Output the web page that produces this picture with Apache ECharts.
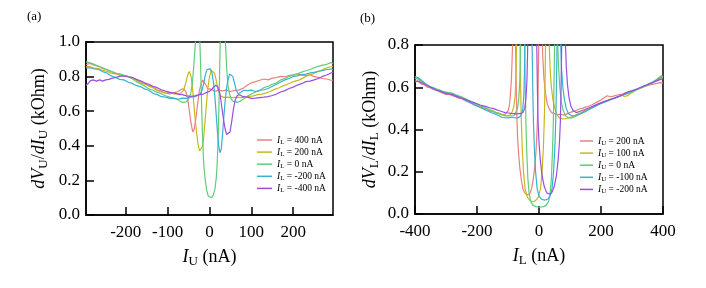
<!DOCTYPE html>
<html><head><meta charset="utf-8">
<script src="https://cdn.jsdelivr.net/npm/echarts@6/dist/echarts.min.js"></script>
<style>html,body{margin:0;padding:0;background:#fff}#c{width:706px;height:288px}</style>
</head><body><div id="c"></div><script>
// ---------- Panel (a): dV_U/dI_U vs I_U ----------
const xTicksA = [-200, -100, 0, 100, 200];
const yTicksA = [0, 0.2, 0.4, 0.6, 0.8, 1.0];
const namesA = ['IL = 400 nA', 'IL = 200 nA', 'IL = 0 nA', 'IL = -200 nA', 'IL = -400 nA'];
const a_IL400 = [[-295,.87],[-285,.876],[-275,.864],[-265,.861],[-255,.846],[-245,.841],[-235,.829],[-225,.822],[-215,.809],[-205,.806],[-195,.8],[-185,.791],[-175,.784],[-165,.771],[-155,.761],[-145,.749],[-135,.741],[-125,.724],[-115,.716],[-105,.704],[-95,.7],[-85,.706],[-75,.714],[-68,.726],[-62,.73],[-56,.71],[-52,.67],[-48,.6],[-44,.53],[-40,.48],[-36,.5],[-32,.57],[-28,.65],[-24,.72],[-20,.76],[-16,.78],[-12,.775],[-8,.75],[-4,.73],[0,.72],[5,.726],[10,.718],[15,.716],[20,.722],[30,.718],[40,.722],[50,.714],[60,.72],[70,.722],[80,.732],[90,.75],[100,.764],[110,.771],[120,.779],[130,.786],[140,.781],[150,.791],[160,.794],[170,.801],[180,.799],[190,.806],[200,.81],[210,.816],[220,.809],[230,.806],[240,.811],[250,.8],[260,.796],[270,.789],[280,.786],[290,.779],[295,.78]];
const a_IL200 = [[-295,.86],[-285,.856],[-275,.849],[-265,.846],[-255,.834],[-245,.831],[-235,.82],[-225,.816],[-215,.809],[-205,.806],[-195,.8],[-185,.794],[-175,.781],[-165,.764],[-155,.756],[-145,.744],[-135,.736],[-125,.719],[-115,.711],[-105,.704],[-95,.71],[-85,.699],[-75,.701],[-68,.705],[-62,.72],[-57,.76],[-52,.81],[-48,.83],[-44,.8],[-40,.72],[-36,.6],[-32,.5],[-28,.42],[-24,.37],[-20,.36],[-16,.4],[-12,.5],[-8,.62],[-4,.73],[0,.8],[4,.835],[8,.84],[12,.82],[16,.78],[20,.73],[24,.7],[28,.686],[35,.68],[45,.681],[55,.678],[65,.681],[75,.679],[85,.681],[95,.686],[105,.689],[115,.696],[125,.699],[135,.706],[145,.714],[155,.726],[165,.734],[175,.746],[185,.754],[195,.766],[205,.774],[215,.781],[225,.794],[235,.806],[245,.814],[255,.826],[265,.834],[275,.846],[285,.854],[295,.86]];
const a_IL0 = [[-295,.885],[-285,.879],[-275,.871],[-265,.859],[-255,.851],[-245,.839],[-235,.831],[-225,.819],[-215,.816],[-205,.809],[-195,.801],[-185,.789],[-175,.771],[-165,.759],[-155,.746],[-145,.729],[-135,.721],[-125,.709],[-115,.701],[-105,.689],[-95,.681],[-85,.674],[-75,.666],[-68,.654],[-62,.651],[-56,.654],[-50,.67],[-45,.7],[-41,.76],[-38,.85],[-35,.95],[-33,1.02],[-30,1.4],[-27,1.6],[-25,1.3],[-23,1.0],[-21,.85],[-19,.65],[-17,.48],[-15,.35],[-13,.27],[-10,.2],[-7,.145],[-3,.11],[1,.1],[5,.1],[9,.115],[13,.15],[16,.21],[18,.28],[20,.4],[22,.58],[24,.8],[25.5,1.0],[28,1.3],[32,1.6],[35,1.3],[38,1.0],[41,.85],[44,.75],[48,.7],[52,.67],[56,.658],[60,.65],[66,.651],[72,.656],[80,.669],[90,.686],[100,.699],[110,.711],[120,.719],[130,.736],[140,.744],[150,.756],[160,.764],[170,.781],[180,.789],[190,.801],[200,.809],[210,.816],[220,.826],[230,.834],[240,.841],[250,.851],[260,.859],[270,.866],[280,.871],[290,.881],[295,.875]];
const a_ILm200 = [[-295,.85],[-285,.851],[-275,.844],[-265,.841],[-255,.829],[-245,.821],[-235,.804],[-225,.796],[-215,.784],[-205,.781],[-195,.769],[-185,.761],[-175,.749],[-165,.741],[-155,.729],[-145,.721],[-135,.704],[-125,.696],[-115,.684],[-105,.681],[-95,.674],[-85,.676],[-75,.669],[-65,.676],[-55,.674],[-45,.681],[-35,.684],[-28,.691],[-22,.7],[-18,.72],[-14,.76],[-10,.81],[-6,.84],[-2,.85],[2,.845],[6,.82],[10,.76],[13,.68],[16,.58],[19,.48],[22,.4],[25,.36],[28,.38],[31,.46],[34,.56],[37,.65],[40,.72],[44,.78],[48,.815],[52,.82],[56,.8],[60,.76],[64,.72],[69,.7],[75,.709],[82,.721],[90,.719],[100,.722],[110,.714],[120,.721],[130,.724],[140,.731],[150,.744],[160,.756],[170,.769],[180,.781],[190,.789],[200,.801],[210,.804],[220,.811],[230,.814],[240,.821],[250,.824],[260,.831],[270,.834],[280,.841],[290,.844],[295,.84]];
const a_ILm400 = [[-295,.75],[-290,.76],[-285,.775],[-278,.781],[-270,.774],[-262,.781],[-255,.774],[-248,.781],[-240,.784],[-232,.791],[-225,.794],[-215,.801],[-205,.804],[-195,.799],[-185,.796],[-175,.784],[-165,.776],[-155,.764],[-145,.756],[-135,.744],[-125,.736],[-115,.724],[-105,.716],[-95,.709],[-85,.706],[-75,.699],[-65,.696],[-55,.689],[-45,.686],[-35,.689],[-25,.696],[-15,.699],[-5,.71],[0,.715],[5,.725],[10,.74],[15,.75],[20,.74],[25,.7],[29,.63],[33,.56],[37,.5],[41,.465],[45,.455],[49,.48],[53,.54],[57,.61],[61,.66],[66,.69],[72,.695],[80,.684],[90,.681],[100,.674],[110,.676],[120,.679],[130,.681],[140,.684],[150,.691],[160,.699],[170,.711],[180,.719],[190,.731],[200,.739],[210,.751],[220,.759],[230,.771],[240,.774],[250,.781],[260,.789],[270,.801],[280,.809],[290,.821],[295,.825]];

// ---------- Panel (b): dV_L/dI_L vs I_L ----------
const xTicksB = [-400, -200, 0, 200, 400];
const yTicksB = [0, 0.2, 0.4, 0.6, 0.8];
const namesB = ['IU = 200 nA', 'IU = 100 nA', 'IU = 0 nA', 'IU = -100 nA', 'IU = -200 nA'];
const b_IU200 = [[-400,.63],[-390,.627],[-380,.615],[-370,.612],[-360,.6],[-350,.597],[-340,.588],[-330,.585],[-320,.578],[-310,.572],[-300,.566],[-290,.567],[-280,.56],[-270,.556],[-260,.548],[-250,.546],[-240,.538],[-230,.532],[-220,.524],[-210,.517],[-200,.51],[-190,.507],[-180,.5],[-170,.496],[-160,.489],[-150,.486],[-140,.479],[-130,.476],[-120,.47],[-110,.472],[-104,.476],[-99,.49],[-95,.52],[-92,.57],[-89,.64],[-87,.72],[-85,.82],[-83,1.0],[-80,1.4],[-77,1.0],[-75,.75],[-73,.56],[-71,.44],[-69,.36],[-66,.29],[-62,.22],[-57,.16],[-52,.12],[-46,.1],[-38,.09],[-30,.095],[-24,.12],[-19,.16],[-14,.22],[-10,.29],[-7,.37],[-5,.45],[-3,.58],[-1,.78],[1,1.0],[5,1.4],[9,.95],[12,.75],[16,.64],[21,.57],[27,.52],[34,.495],[41,.48],[50,.475],[60,.47],[70,.472],[80,.468],[90,.474],[100,.48],[110,.486],[120,.49],[130,.497],[140,.5],[150,.506],[160,.51],[170,.516],[180,.524],[190,.532],[200,.54],[210,.55],[220,.56],[230,.555],[240,.558],[250,.562],[260,.565],[270,.568],[280,.575],[290,.578],[300,.585],[310,.588],[320,.594],[330,.598],[340,.604],[350,.608],[360,.612],[370,.615],[380,.618],[390,.622],[400,.62]];
const b_IU100 = [[-400,.645],[-390,.638],[-380,.628],[-370,.62],[-360,.607],[-350,.603],[-340,.595],[-330,.592],[-320,.586],[-310,.58],[-300,.574],[-290,.575],[-280,.57],[-270,.563],[-260,.558],[-250,.552],[-240,.544],[-230,.54],[-220,.531],[-210,.524],[-200,.518],[-190,.511],[-180,.505],[-170,.498],[-160,.494],[-150,.488],[-140,.482],[-130,.478],[-120,.472],[-110,.466],[-100,.465],[-92,.47],[-86,.485],[-81,.51],[-77,.56],[-75,.63],[-73.5,.72],[-72,.85],[-70.5,1.05],[-67,1.4],[-63,1.0],[-61,.78],[-59,.58],[-57,.44],[-54,.31],[-50,.2],[-45,.12],[-38,.08],[-28,.062],[-20,.058],[-12,.062],[-2,.08],[5,.12],[10,.2],[14,.31],[17,.44],[19,.58],[21,.78],[23,1.0],[27,1.4],[31,1.0],[33,.8],[36,.68],[40,.6],[45,.54],[51,.5],[58,.47],[66,.455],[76,.45],[86,.451],[96,.455],[106,.46],[116,.466],[126,.474],[136,.48],[146,.488],[156,.494],[166,.502],[176,.51],[186,.518],[196,.524],[206,.53],[216,.535],[226,.54],[236,.546],[246,.55],[256,.555],[266,.562],[276,.556],[286,.56],[296,.572],[306,.58],[316,.588],[326,.594],[336,.6],[346,.607],[356,.615],[366,.622],[376,.632],[386,.645],[394,.655],[400,.65]];
const b_IU0 = [[-400,.64],[-390,.642],[-380,.63],[-370,.618],[-360,.61],[-350,.602],[-340,.598],[-330,.59],[-320,.587],[-310,.58],[-300,.578],[-290,.574],[-280,.572],[-270,.566],[-260,.56],[-250,.555],[-240,.548],[-230,.54],[-220,.533],[-210,.526],[-200,.52],[-190,.512],[-180,.506],[-170,.5],[-160,.493],[-150,.487],[-140,.48],[-130,.475],[-120,.47],[-110,.466],[-100,.464],[-90,.465],[-80,.466],[-74,.475],[-69,.5],[-65,.55],[-62,.63],[-60,.74],[-58.5,.88],[-57,1.05],[-53,1.5],[-48,1.0],[-46,.78],[-44,.58],[-42,.42],[-39,.28],[-36,.17],[-32,.1],[-27,.06],[-20,.042],[-10,.035],[2,.032],[14,.035],[24,.042],[31,.06],[36,.1],[40,.17],[43,.28],[46,.42],[48,.58],[50,.78],[52,1.0],[55,1.4],[58,1.0],[60,.82],[63,.7],[67,.6],[72,.53],[78,.49],[86,.465],[95,.455],[105,.455],[115,.46],[125,.467],[135,.475],[145,.482],[155,.49],[165,.498],[175,.506],[185,.514],[195,.522],[205,.528],[215,.534],[225,.54],[235,.545],[245,.55],[255,.556],[265,.56],[275,.565],[285,.57],[295,.575],[305,.582],[315,.588],[325,.595],[335,.602],[345,.608],[355,.615],[365,.622],[375,.63],[385,.638],[395,.645],[400,.648]];
const b_IUm100 = [[-400,.65],[-390,.645],[-380,.635],[-370,.622],[-360,.61],[-350,.6],[-340,.596],[-330,.588],[-320,.583],[-310,.577],[-300,.572],[-290,.571],[-280,.566],[-270,.562],[-260,.555],[-250,.55],[-240,.541],[-230,.534],[-220,.526],[-210,.518],[-200,.512],[-190,.504],[-180,.498],[-170,.49],[-160,.484],[-150,.478],[-140,.472],[-130,.466],[-120,.458],[-110,.456],[-100,.455],[-90,.458],[-80,.456],[-70,.455],[-62,.46],[-56,.475],[-52,.5],[-49,.56],[-47,.66],[-45.5,.8],[-44,1.0],[-40,1.5],[-30,1.5],[-24,1.0],[-22,.78],[-20,.58],[-18,.44],[-15,.31],[-11,.2],[-6,.12],[0,.085],[8,.07],[18,.066],[28,.07],[36,.085],[42,.12],[47,.2],[51,.31],[54,.44],[56,.58],[58,.78],[60,1.0],[64,1.4],[68,1.0],[70,.8],[73,.68],[77,.6],[82,.54],[88,.5],[95,.475],[105,.465],[115,.465],[125,.47],[135,.476],[145,.482],[155,.49],[165,.497],[175,.505],[185,.512],[195,.52],[205,.526],[215,.532],[225,.538],[235,.543],[245,.548],[255,.554],[265,.56],[275,.566],[285,.572],[295,.578],[305,.584],[315,.59],[325,.597],[335,.604],[345,.61],[355,.617],[365,.624],[375,.632],[385,.64],[395,.648],[400,.65]];
const b_IUm200 = [[-400,.625],[-390,.63],[-380,.622],[-370,.615],[-360,.607],[-350,.6],[-340,.593],[-330,.586],[-320,.582],[-310,.576],[-300,.57],[-290,.568],[-280,.565],[-270,.558],[-260,.553],[-250,.548],[-240,.544],[-230,.538],[-220,.532],[-210,.527],[-200,.522],[-190,.516],[-180,.512],[-170,.508],[-160,.503],[-150,.5],[-140,.495],[-130,.49],[-120,.485],[-110,.48],[-100,.478],[-90,.476],[-80,.475],[-70,.474],[-60,.476],[-52,.48],[-46,.5],[-42,.55],[-39,.63],[-37,.75],[-35.5,.9],[-34,1.1],[-30,1.5],[-12,1.5],[-9,1.0],[-7,.78],[-5,.58],[-3,.44],[0,.34],[4,.26],[10,.18],[17,.13],[25,.1],[33,.095],[41,.1],[49,.13],[56,.18],[62,.26],[66,.34],[69,.44],[71,.58],[73,.78],[75,1.0],[79,1.4],[83,1.0],[85,.82],[88,.7],[92,.61],[97,.55],[103,.51],[110,.49],[120,.48],[130,.485],[140,.49],[150,.496],[160,.502],[170,.508],[180,.514],[190,.52],[200,.526],[210,.532],[220,.537],[230,.542],[240,.547],[250,.553],[260,.558],[270,.566],[280,.572],[290,.58],[300,.582],[310,.588],[320,.594],[330,.6],[340,.606],[350,.612],[360,.618],[370,.624],[380,.63],[390,.636],[400,.64]];

const colors = ['#ec7f7f', '#c9b81c', '#62cc7a', '#36b2d2', '#9a4ee0'];
const seriesA = [a_IL400, a_IL200, a_IL0, a_ILm200, a_ILm400];
const seriesB = [b_IU200, b_IU100, b_IU0, b_IUm100, b_IUm200];

const SERIF = '"Liberation Serif", "DejaVu Serif", serif';
const nameRich = {
  i: { fontFamily: SERIF, fontSize: 18, fontStyle: 'italic', color: '#000', lineHeight: 22 },
  s: { fontFamily: SERIF, fontSize: 13, color: '#000', lineHeight: 22, verticalAlign: 'bottom' },
  n: { fontFamily: SERIF, fontSize: 18, color: '#000', lineHeight: 22 }
};
const legRich = {
  i: { fontFamily: SERIF, fontSize: 9.5, fontStyle: 'italic', color: '#000', lineHeight: 11 },
  s: { fontFamily: SERIF, fontSize: 7, color: '#000', lineHeight: 11, verticalAlign: 'bottom' },
  n: { fontFamily: SERIF, fontSize: 9.5, color: '#000', lineHeight: 11 }
};
function legFmt(name) {
  const m = name.match(/^I([LU])(.*)$/);
  return '{i|I}{s|' + m[1] + '}{n|' + m[2] + '}';
}
const axLine = { show: true, onZero: false, lineStyle: { color: '#000', width: 1.5 } };
function xAx(gi, min, max, ticks, title) {
  return {
    type: 'value', gridIndex: gi, min: min, max: max,
    axisLine: axLine,
    axisTick: { show: true, inside: true, length: 8, customValues: ticks, lineStyle: { color: '#000', width: 1.5 } },
    axisLabel: { customValues: ticks, fontFamily: SERIF, fontSize: 17, color: '#000', margin: 9 },
    splitLine: { show: false },
    name: title, nameLocation: 'middle', nameGap: 31,
    nameTextStyle: { rich: nameRich }
  };
}
function yAx(gi, max, ticks, title, gap) {
  return {
    type: 'value', gridIndex: gi, min: 0, max: max,
    axisLine: axLine,
    axisTick: { show: true, inside: true, length: 8, customValues: ticks, lineStyle: { color: '#000', width: 1.5 } },
    axisLabel: { customValues: ticks, fontFamily: SERIF, fontSize: 17, color: '#000', margin: 6,
      formatter: v => v.toFixed(1) },
    splitLine: { show: false },
    name: title, nameLocation: 'middle', nameGap: gap,
    nameTextStyle: { rich: nameRich }
  };
}
const series = [];
seriesA.forEach((d, i) => series.push({ name: namesA[i], type: 'line', xAxisIndex: 0, yAxisIndex: 0,
  data: d, symbol: 'none', showSymbol: false, clip: true, color: colors[i], lineStyle: { width: 1.2 } }));
seriesB.forEach((d, i) => series.push({ name: namesB[i], type: 'line', xAxisIndex: 1, yAxisIndex: 1,
  data: d, symbol: 'none', showSymbol: false, clip: true, color: colors[i], lineStyle: { width: 1.2 } }));

const chart = echarts.init(document.getElementById('c'), null, { renderer: 'canvas' });
chart.setOption({
  animation: false,
  backgroundColor: '#fff',
  grid: [
    { left: 86, top: 42, width: 247, height: 173, show: true, borderColor: '#000', borderWidth: 1.5, backgroundColor: 'transparent' },
    { left: 415, top: 45, width: 248, height: 169, show: true, borderColor: '#000', borderWidth: 1.5, backgroundColor: 'transparent' }
  ],
  xAxis: [
    xAx(0, -295, 295, xTicksA, '{i|I}{s|U}{n| (nA)}'),
    xAx(1, -400, 400, xTicksB, '{i|I}{s|L}{n| (nA)}')
  ],
  yAxis: [
    yAx(0, 1.0, yTicksA, '{i|dV}{s|U}{n|/}{i|dI}{s|U}{n| (kOhm)}', 36),
    yAx(1, 0.8, yTicksB, '{i|dV}{s|L}{n|/}{i|dI}{s|L}{n| (kOhm)}', 34)
  ],
  legend: [
    { data: namesA, orient: 'vertical', left: 257, top: 135, padding: 0, icon: 'rect', itemWidth: 15, itemHeight: 1.5, itemGap: 1.6,
      formatter: legFmt, textStyle: { rich: legRich }, selectedMode: false },
    { data: namesB, orient: 'vertical', left: 580, top: 136, padding: 0, icon: 'rect', itemWidth: 13, itemHeight: 1.5, itemGap: 1.6,
      formatter: legFmt, textStyle: { rich: legRich }, selectedMode: false }
  ],
  graphic: [
    { type: 'text', left: 27, top: 10, style: { text: '(a)', font: '13px ' + SERIF, fill: '#000' } },
    { type: 'text', left: 360, top: 12, style: { text: '(b)', font: '13px ' + SERIF, fill: '#000' } }
  ],
  series: series
});
</script></body></html>
